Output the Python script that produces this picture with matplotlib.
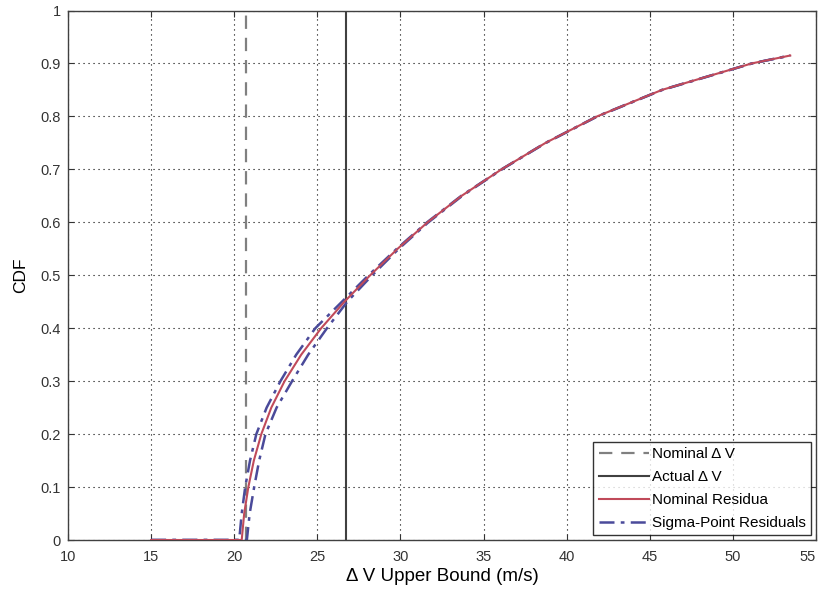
import matplotlib
matplotlib.use("Agg")
import matplotlib.pyplot as plt

plt.rcParams['font.family'] = ['Liberation Sans', 'DejaVu Sans']

# Data
nominal_dv = 20.7
actual_dv = 26.73

cdf_levels = [0, 0, 0.05, 0.1, 0.15, 0.2, 0.25, 0.3, 0.35, 0.4, 0.45, 0.5, 0.55,
              0.6, 0.65, 0.7, 0.75, 0.8, 0.85, 0.9, 0.915]

nominal_resid_x = [15, 20.45, 20.6, 20.85, 21.18, 21.63, 22.23, 23.03, 24.03, 25.23,
                   26.63, 28.18, 29.83, 31.63, 33.68, 36.08, 38.73, 41.83, 45.73,
                   51.13, 53.45]

sigma_lo_x = [15, 20.3, 20.45, 20.66, 20.95, 21.33, 21.95, 22.78, 23.73, 24.88,
              26.48, 28.08, 29.78, 31.6, 33.66, 36.08, 38.73, 41.83, 45.73,
              51.13, 53.45]

sigma_hi_x = [15, 20.76, 20.93, 21.2, 21.5, 21.88, 22.55, 23.48, 24.45, 25.58,
              26.8, 28.3, 29.9, 31.68, 33.72, 36.1, 38.75, 41.85, 45.75,
              51.15, 53.45]

x_ticks = [10, 15, 20, 25, 30, 35, 40, 45, 50, 55]
y_ticks = [0, 0.1, 0.2, 0.3, 0.4, 0.5, 0.6, 0.7, 0.8, 0.9, 1]
y_tick_labels = ['0', '0.1', '0.2', '0.3', '0.4', '0.5', '0.6', '0.7', '0.8', '0.9', '1']

fig = plt.figure(figsize=(8.2, 5.96), dpi=100)
ax = fig.add_axes([68/820, 56/596, (816-68)/820, (540-10.5)/596])

ax.axvline(nominal_dv, color='#808080', ls=(0, (6, 4)), lw=1.6, label='Nominal Δ V')
ax.axvline(actual_dv, color='#404040', ls='-', lw=1.5, label='Actual Δ V')
ax.plot(nominal_resid_x, cdf_levels, color='#c04a5a', lw=1.5, label='Nominal Residua',
        zorder=3)
dashdot = (0, (6, 2.5, 1.5, 2.5))
ax.plot(sigma_lo_x, cdf_levels, color='#4a4a9a', lw=1.8, ls=dashdot,
        label='Sigma-Point Residuals', zorder=2)
ax.plot(sigma_hi_x, cdf_levels, color='#4a4a9a', lw=1.8, ls=dashdot, zorder=2)

ax.set_xlim(10, 55)
ax.set_ylim(0, 1)
ax.set_xticks(x_ticks)
ax.set_yticks(y_ticks)
ax.set_yticklabels(y_tick_labels)
ax.grid(True, color='black', ls=(0, (1, 3.5)), lw=0.8)
ax.tick_params(direction='in', length=4, labelsize=10.5, colors='#333333',
               top=True, right=True)
ax.tick_params(axis='x', pad=7)
ax.tick_params(axis='y', pad=5)
xl = ax.get_xticklabels()
xl[-1].set_horizontalalignment('right')
for s in ax.spines.values():
    s.set_color('#404040')
    s.set_linewidth(1.0)

ax.set_xlabel('Δ V Upper Bound (m/s)', fontsize=13.5, labelpad=3)
ax.set_ylabel('CDF', fontsize=12.5, labelpad=9)

leg = ax.legend(loc='lower right', fontsize=11, frameon=True, fancybox=False,
                edgecolor='black', borderpad=0.35, labelspacing=0.58,
                handlelength=3.3, handletextpad=0.2, borderaxespad=0.3)
leg.get_frame().set_linewidth(1.0)

fig.savefig('out.png', dpi=100)
